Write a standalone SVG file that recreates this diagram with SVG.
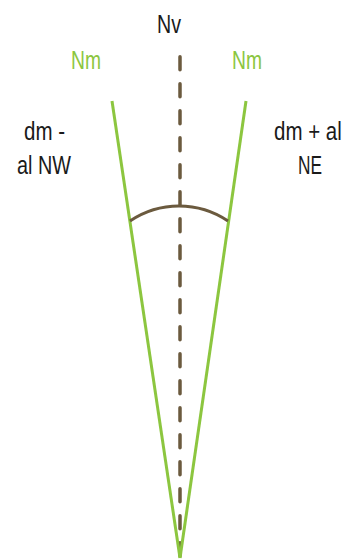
<svg xmlns="http://www.w3.org/2000/svg" width="351" height="560" viewBox="0 0 351 560">
<style>
.t{font-family:"Liberation Sans",Arial,sans-serif;font-size:25px;fill:#1a1a1a}
.g{fill:#8cc63f}
.dash{stroke:#6b5a3e;stroke-width:3.5;stroke-dasharray:13 14;stroke-linecap:round;fill:none}
.mag{stroke:#8cc63f;stroke-width:3;fill:none}
.arc{stroke:#6b5a3e;stroke-width:3;fill:none}
</style>
<rect width="351" height="560" fill="#ffffff"/>
<g id="connectors">
<line class="dash" x1="180" y1="56.75" x2="180" y2="560"/>
<line class="mag" x1="112" y1="101" x2="180" y2="558"/>
<line class="mag" x1="246" y1="101" x2="180" y2="558"/>
<path class="arc" d="M130,221 A87.5,87.5 0 0 1 228,221"/>
</g>
<g id="nv"><text class="t" x="157" y="33" textLength="24" lengthAdjust="spacingAndGlyphs">Nv</text></g>
<g id="nm-left"><text class="t g" x="71" y="69" textLength="30" lengthAdjust="spacingAndGlyphs">Nm</text></g>
<g id="nm-right"><text class="t g" x="232" y="69" textLength="30" lengthAdjust="spacingAndGlyphs">Nm</text></g>
<g id="nw-label">
<text class="t" x="24" y="140" textLength="41" lengthAdjust="spacingAndGlyphs">dm -</text>
<text class="t" x="17" y="174" textLength="54" lengthAdjust="spacingAndGlyphs">al NW</text>
</g>
<g id="ne-label">
<text class="t" transform="translate(274,140) scale(0.82,1)">dm + al</text>
<text class="t" x="298" y="174" textLength="24" lengthAdjust="spacingAndGlyphs">NE</text>
</g>
</svg>
